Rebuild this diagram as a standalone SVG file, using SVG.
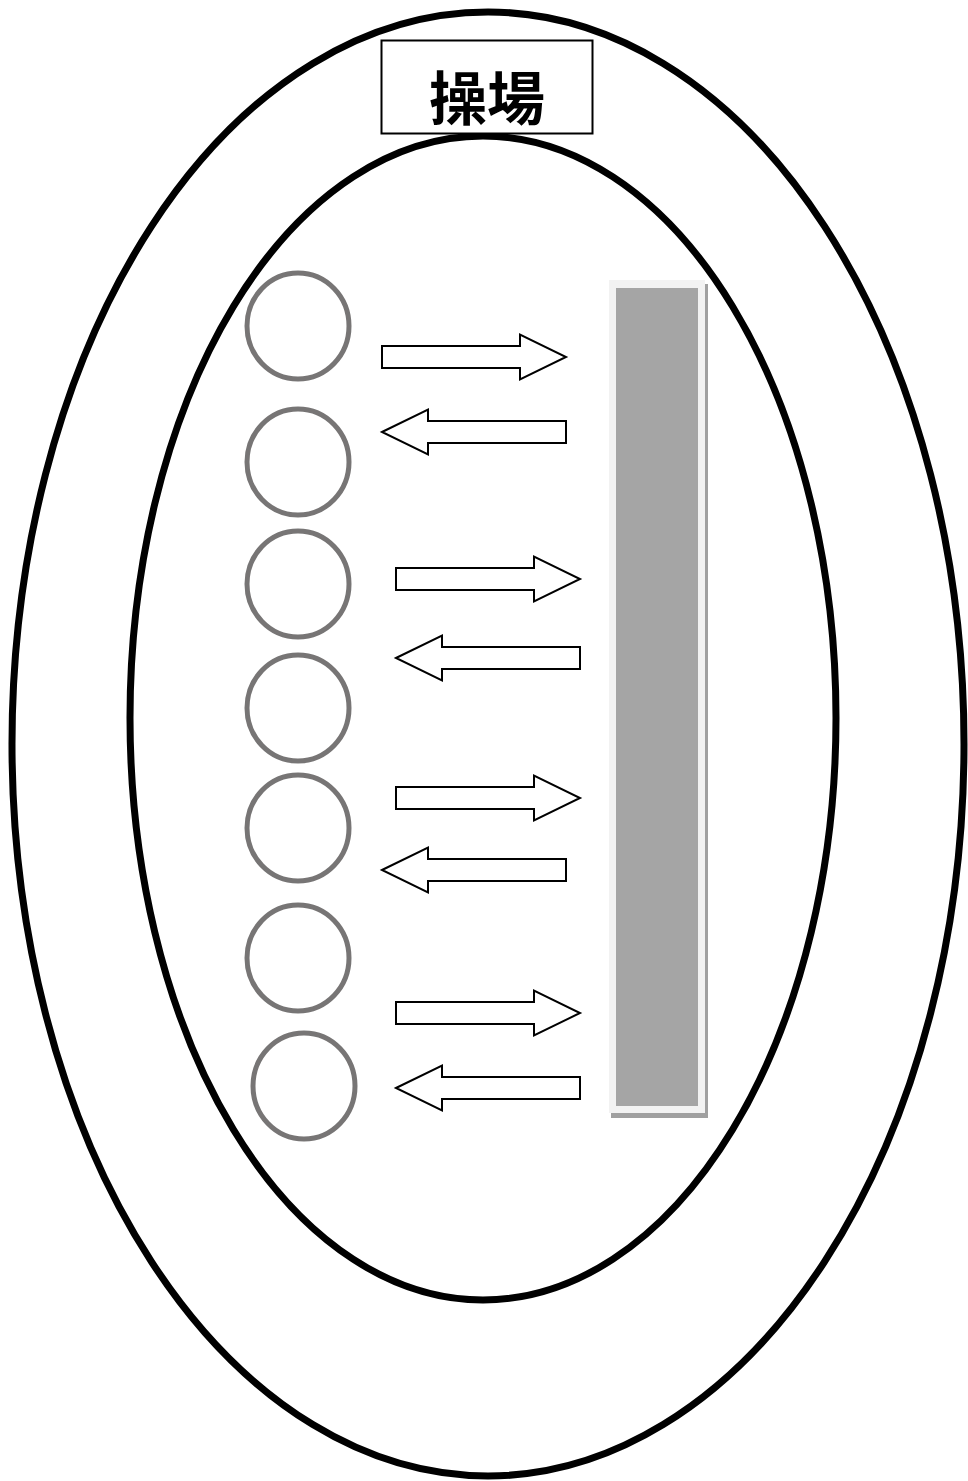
<svg xmlns="http://www.w3.org/2000/svg" xmlns:xlink="http://www.w3.org/1999/xlink" width="968" height="1481" viewBox="0 0 968 1481">
<style>
.track{fill:none;stroke:#000;stroke-width:7}
.p{fill:none;stroke:#777575;stroke-width:5}
.arr{fill:#fff;stroke:#000;stroke-width:2;stroke-linejoin:miter}
</style>
<defs>
<path id="ra" d="M0,-11 H138 V-22.5 L184,0 L138,22.5 V11 H0 Z"/>
<path id="la" d="M0,0 L46,-22.5 V-11 H184 V11 H46 V22.5 Z"/>
</defs>
<rect width="968" height="1481" fill="#fff"/>
<g id="outer-track"><ellipse class="track" cx="488" cy="744" rx="476" ry="732"/></g>
<g id="inner-track"><ellipse class="track" cx="483" cy="718" rx="353" ry="582"/></g>
<g id="label">
<rect x="381.5" y="40.5" width="211" height="93" fill="#fff" stroke="#000" stroke-width="2"/>
<text x="487" y="120" font-family="Noto Sans CJK TC, sans-serif" font-weight="bold" font-size="58" text-anchor="middle">操場</text>
</g>
<g id="wall">
<rect x="611" y="284" width="97" height="834" fill="#a0a0a0"/>
<rect x="609" y="280" width="96" height="833" fill="#f2f2f2"/>
<rect x="616" y="288" width="82" height="818" fill="#a5a5a5"/>
</g>
<g id="people">
<ellipse class="p" cx="298" cy="326" rx="51" ry="53"/>
<ellipse class="p" cx="298" cy="462" rx="51" ry="53"/>
<ellipse class="p" cx="298" cy="584" rx="51" ry="53"/>
<ellipse class="p" cx="298" cy="708" rx="51" ry="53"/>
<ellipse class="p" cx="298" cy="828" rx="51" ry="53"/>
<ellipse class="p" cx="298" cy="958" rx="51" ry="53"/>
<ellipse class="p" cx="304" cy="1086" rx="51" ry="53"/>
</g>
<g id="connectors">
<use xlink:href="#ra" class="arr" transform="translate(382,357)"/>
<use xlink:href="#la" class="arr" transform="translate(382,432)"/>
<use xlink:href="#ra" class="arr" transform="translate(396,579)"/>
<use xlink:href="#la" class="arr" transform="translate(396,658)"/>
<use xlink:href="#ra" class="arr" transform="translate(396,798)"/>
<use xlink:href="#la" class="arr" transform="translate(382,870)"/>
<use xlink:href="#ra" class="arr" transform="translate(396,1013)"/>
<use xlink:href="#la" class="arr" transform="translate(396,1088)"/>
</g>
</svg>
